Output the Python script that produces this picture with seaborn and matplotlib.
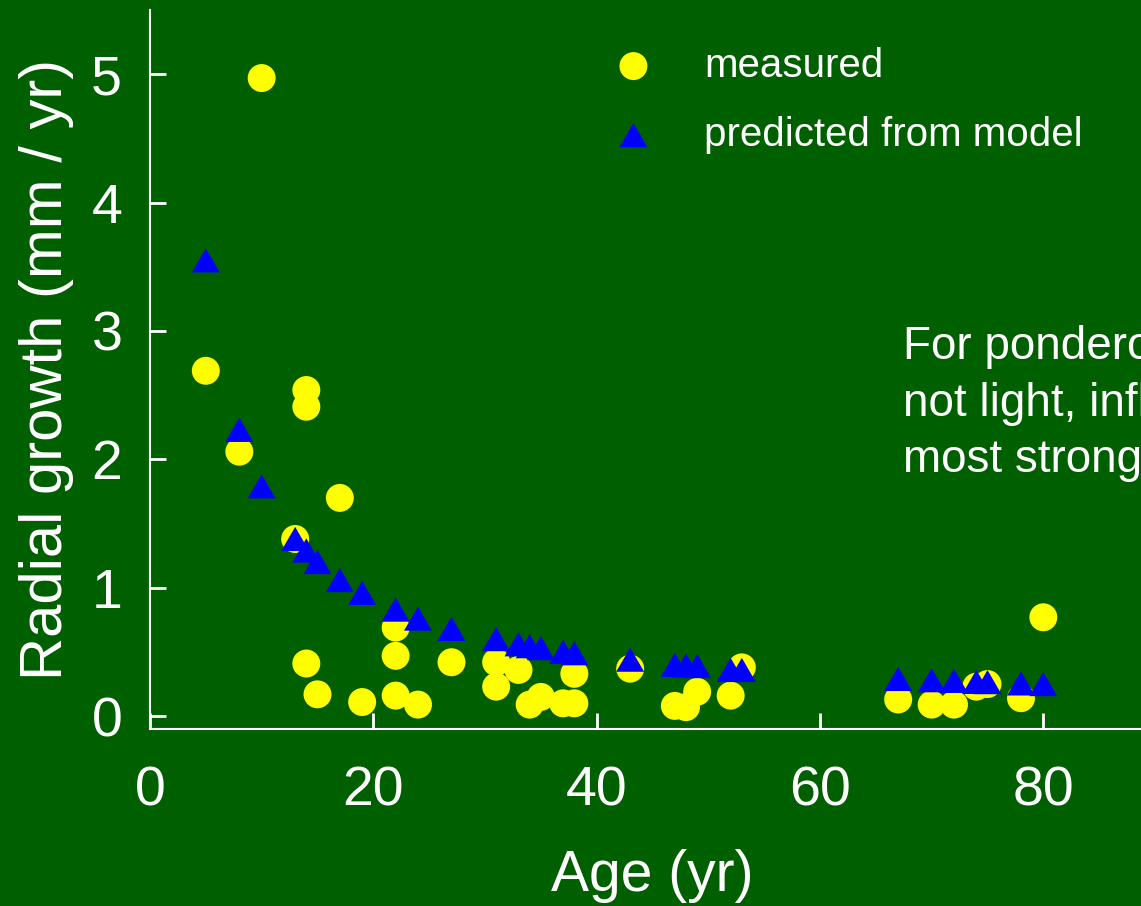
import matplotlib
matplotlib.use("Agg")
import matplotlib.pyplot as plt
import seaborn as sns
import numpy as np
from matplotlib.path import Path

# ---- data ----
age_measured = [5, 8, 10, 13, 14, 14, 14, 15, 17, 19, 22, 22, 22, 24, 27, 31, 31, 33,
                34, 35, 37, 38, 38, 43, 47, 48, 49, 52, 53, 67, 70, 72, 74, 75, 78, 80]
growth_measured = [2.69, 2.06, 4.97, 1.38, 2.54, 2.41, 0.41, 0.17, 1.70, 0.11, 0.69, 0.47,
                   0.16, 0.09, 0.42, 0.42, 0.23, 0.36, 0.09, 0.15, 0.10, 0.33, 0.10, 0.37,
                   0.08, 0.07, 0.19, 0.16, 0.38, 0.13, 0.09, 0.09, 0.23, 0.25, 0.14, 0.77]
age_predicted = [5, 8, 10, 13, 14, 15, 17, 19, 22, 24, 27, 31, 33, 34, 35, 37, 38, 43,
                 47, 48, 49, 52, 53, 67, 70, 72, 74, 75, 78, 80]
growth_predicted = [3.55, 2.23, 1.79, 1.38, 1.29, 1.20, 1.06, 0.96, 0.83, 0.76, 0.68, 0.60,
                    0.56, 0.545, 0.53, 0.50, 0.49, 0.44, 0.40, 0.395, 0.39, 0.36, 0.36,
                    0.29, 0.28, 0.275, 0.267, 0.265, 0.255, 0.25]
x_ticks = [0, 20, 40, 60, 80]
y_ticks = [0, 1, 2, 3, 4, 5]
label_measured = "measured"
label_predicted = "predicted from model"
x_label = "Age (yr)"
y_label = "Radial growth (mm / yr)"
note = "For ponderosa pine, water,\nnot light, influences growth\nmost strongly"

BG = "#006000"
sns.set_theme(style="white")
plt.rcParams["font.family"] = ["Liberation Sans", "DejaVu Sans"]

fig = plt.figure(figsize=(11.41, 9.06), dpi=100, facecolor=BG)
ax = fig.add_axes([150 / 1141, 1 - 729 / 906, 1005 / 1141, 719 / 906])
ax.set_facecolor(BG)

tri = Path([(0, 0.433), (-0.5, -0.433), (0.5, -0.433), (0, 0.433)],
           [Path.MOVETO, Path.LINETO, Path.LINETO, Path.CLOSEPOLY])

sns.scatterplot(x=age_measured, y=growth_measured, color="#FFFF00", s=405, marker="o",
                edgecolor="none", linewidth=0, label=label_measured, ax=ax, zorder=3)
sns.scatterplot(x=age_predicted, y=growth_predicted, color="#0000FF", s=405, marker=tri,
                edgecolor="none", linewidth=0, label=label_predicted, ax=ax, zorder=4)

ax.set_xlim(0, 90)
ax.set_ylim(-0.1, 5.5)
ax.set_xticks(x_ticks)
ax.set_yticks(y_ticks)

for s in ["top", "right"]:
    ax.spines[s].set_visible(False)
for s in ["left", "bottom"]:
    ax.spines[s].set_color("white")
    ax.spines[s].set_linewidth(1.5)

ax.tick_params(axis="both", direction="in", length=11.5, width=2, color="white",
               labelcolor="white", labelsize=40, left=True, bottom=True)
ax.tick_params(axis="x", pad=26)
ax.tick_params(axis="y", pad=20)
ax.grid(False)

ax.set_xlabel(x_label, color="white", fontsize=41)
ax.set_ylabel(y_label, color="white", fontsize=43, va="center")
ax.xaxis.set_label_coords(0.5, -0.167)
ax.yaxis.set_label_coords(-0.103, 0.5)

leg = ax.legend(loc="upper left", bbox_to_anchor=(0.461, 0.949), frameon=False,
                fontsize=29, handlelength=1.0, handletextpad=1.25, borderpad=0,
                borderaxespad=0, labelspacing=0.77, scatterpoints=1)
for t in leg.get_texts():
    t.set_color("white")

fig.text(903 / 1141, 1 - 325 / 906, note, color="white", fontsize=33, ha="left",
         va="top", linespacing=1.37)

fig.savefig("out.png", dpi=100, facecolor=BG)
